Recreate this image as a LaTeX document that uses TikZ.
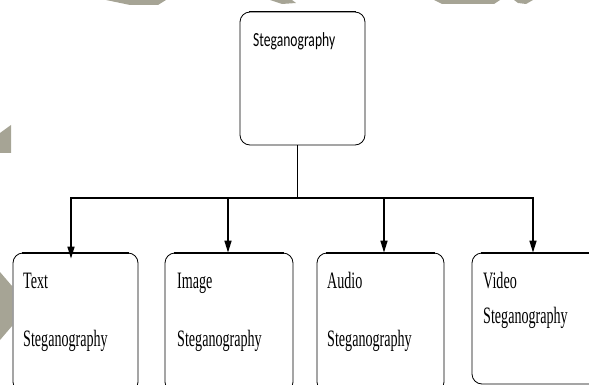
\documentclass[tikz,border=0pt]{standalone}
\usepackage{fontspec}
\setmainfont{Liberation Serif}
\newfontfamily\calib{Carlito}
\usetikzlibrary{arrows.meta}
\definecolor{wm}{RGB}{166,164,149}
\tikzset{
  boxnode/.style={draw, rounded corners=10pt, line width=0.8pt, inner sep=0pt},
  topedge/.style={line width=1.8pt},
  conn/.style={line width=1.5pt},
  arr/.style={line width=1.5pt, -{Triangle[length=12pt,width=7pt]}},
  lbl/.style={anchor=base west, inner sep=0pt, font=\fontsize{23.5}{23.5}\selectfont},
  toplbl/.style={anchor=base west, inner sep=0pt, font=\calib\fontsize{20}{20}\selectfont},
  wmark/.style={fill=wm, draw=none}
}
\newcommand{\cond}[1]{\scalebox{0.6}[1]{#1}}
\begin{document}
\begin{tikzpicture}[x=1pt,y=-1pt]
\useasboundingbox (0,0) rectangle (589,385);
\clip (0,0) rectangle (589,385);
% watermark shapes
\fill[wmark] (106,0) -- (166,0) -- (158,5) -- (130,5) -- cycle;
\fill[wmark] (270,0) -- (292,0) -- (296,3) -- (282,4) -- cycle;
\fill[wmark] (434,0) -- (500,0) -- (494,4) -- (442,4) -- cycle;
\fill[wmark] (514,0) -- (533,0) -- (526,4) -- (518,3) -- cycle;
\fill[wmark] (0,133) -- (11,125) -- (11,153) -- (0,153) -- cycle;
\fill[wmark] (0,272) -- (12,286) -- (12,326) -- (0,340) -- cycle;
% boxes
\node[boxnode, minimum width=125pt, minimum height=133pt] (steg) at (302.5,78.5) {};
\node[boxnode, minimum width=125pt, minimum height=139pt] (txt) at (75.5,322.5) {};
\node[boxnode, minimum width=128pt, minimum height=139pt] (img) at (229,322.5) {};
\node[boxnode, minimum width=127pt, minimum height=139pt] (aud) at (380.5,322.5) {};
\node[boxnode, minimum width=130pt, minimum height=131pt] (vid) at (537,318.5) {};
\foreach \b in {steg,txt,img,aud,vid}{
  \draw[topedge] ([xshift=9pt]\b.north west) -- ([xshift=-9pt]\b.north east);
}
% labels
\node[toplbl] (lsteg) at (253,47) {\scalebox{0.68}[1]{Steganography}};
\node[lbl] (ltxt1) at (23,288) {\cond{Text}};
\node[lbl] (ltxt2) at (23,346) {\cond{Steganography}};
\node[lbl] (limg1) at (177,288) {\cond{Image}};
\node[lbl] (limg2) at (177,346) {\cond{Steganography}};
\node[lbl] (laud1) at (327,288) {\cond{Audio}};
\node[lbl] (laud2) at (327,346) {\cond{Steganography}};
\node[lbl] (lvid1) at (483,288) {\cond{Video}};
\node[lbl] (lvid2) at (483,323) {\cond{Steganography}};
% connectors
\coordinate (hub) at (297,198);
\coordinate (j1) at (71,198);
\coordinate (j2) at (228,198);
\coordinate (j3) at (384,198);
\coordinate (j4) at (533,198);
\draw[line width=0.8pt] (steg.south -| hub) -- (hub);
\draw[conn] ([xshift=-0.75pt]j1) -- ([xshift=0.75pt]j4);
\draw[arr] (j1) -- ([yshift=-6pt]j1 |- txt.north);
\draw[arr] (j2) -- (j2 |- img.north);
\draw[arr] (j3) -- (j3 |- aud.north);
\draw[arr] (j4) -- (j4 |- vid.north);
\end{tikzpicture}
\end{document}
